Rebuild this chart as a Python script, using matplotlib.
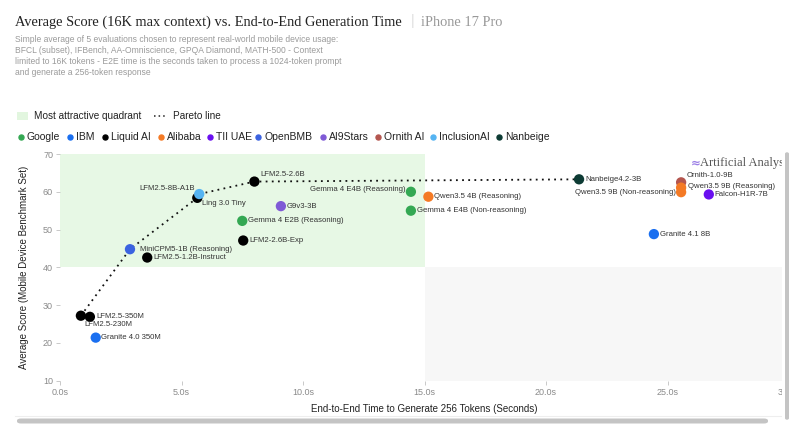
import matplotlib.pyplot as plt
from matplotlib.patches import Rectangle, FancyBboxPatch
from matplotlib.lines import Line2D

# data
models = [
    "LFM2.5-230M", "LFM2.5-350M", "Granite 4.0 350M", "MiniCPM5-1B (Reasoning)",
    "LFM2.5-1.2B-Instruct", "LFM2.5-8B-A1B", "Ling 3.0 Tiny", "LFM2.5-2.6B",
    "Gemma 4 E2B (Reasoning)", "LFM2-2.6B-Exp", "G9v3-3B", "Gemma 4 E4B (Reasoning)",
    "Gemma 4 E4B (Non-reasoning)", "Qwen3.5 4B (Reasoning)", "Nanbeige4.2-3B",
    "Granite 4.1 8B", "Ornith-1.0-9B", "Qwen3.5 9B (Reasoning)",
    "Qwen3.5 9B (Non-reasoning)", "Falcon-H1R-7B",
]
e2e_time = [0.86, 1.23, 1.47, 2.88, 3.59, 5.65, 5.73, 8.0, 7.5, 7.54, 9.09,
            14.44, 14.44, 15.16, 21.36, 24.44, 25.56, 25.56, 25.56, 26.7]
avg_score = [27.2, 26.9, 21.4, 44.8, 42.6, 58.4, 59.4, 62.7, 52.3, 47.1, 56.2,
             60.0, 55.0, 58.7, 63.3, 48.8, 62.5, 61.1, 59.9, 59.3]
orgs = ["Liquid AI", "Liquid AI", "IBM", "OpenBMB", "Liquid AI", "Liquid AI",
        "InclusionAI", "Liquid AI", "Google", "Liquid AI", "AI9Stars", "Google",
        "Google", "Alibaba", "Nanbeige", "IBM", "Ornith AI", "Alibaba",
        "Alibaba", "TII UAE"]
pareto = ["LFM2.5-230M", "MiniCPM5-1B (Reasoning)", "LFM2.5-8B-A1B",
          "Ling 3.0 Tiny", "LFM2.5-2.6B", "Nanbeige4.2-3B"]

org_order = ["Google", "IBM", "Liquid AI", "Alibaba", "TII UAE", "OpenBMB",
             "AI9Stars", "Ornith AI", "InclusionAI", "Nanbeige"]
org_colors = {
    "Google": "#34a853", "IBM": "#1a6ff0", "Liquid AI": "#000000",
    "Alibaba": "#f47a25", "TII UAE": "#6a0ff0", "OpenBMB": "#3b63e0",
    "AI9Stars": "#7f5ad6", "Ornith AI": "#b4564f", "InclusionAI": "#55b4f2",
    "Nanbeige": "#0d3b34",
}

# label offsets in pixels (dx, dy, ha)
offsets = {
    "LFM2.5-230M": (3, -9, "left"), "LFM2.5-350M": (6, 0, "left"),
    "Granite 4.0 350M": (5, 0, "left"), "MiniCPM5-1B (Reasoning)": (10, 0, "left"),
    "LFM2.5-1.2B-Instruct": (6, 0, "left"), "LFM2.5-8B-A1B": (-2, 9, "right"),
    "Ling 3.0 Tiny": (3, -9, "left"), "LFM2.5-2.6B": (6, 7.5, "left"),
    "Gemma 4 E2B (Reasoning)": (6, 0, "left"), "LFM2-2.6B-Exp": (6, 0, "left"),
    "G9v3-3B": (6, 0, "left"), "Gemma 4 E4B (Reasoning)": (-5, 2.5, "right"),
    "Gemma 4 E4B (Non-reasoning)": (6, 0, "left"),
    "Qwen3.5 4B (Reasoning)": (5.5, 0, "left"), "Nanbeige4.2-3B": (6, 0, "left"),
    "Granite 4.1 8B": (6, 0, "left"), "Ornith-1.0-9B": (6, 7, "left"),
    "Qwen3.5 9B (Reasoning)": (7, 1, "left"),
    "Qwen3.5 9B (Non-reasoning)": (-5, 0, "right"), "Falcon-H1R-7B": (6, 0, "left"),
}

plt.rcParams["font.family"] = ["Liberation Sans", "DejaVu Sans"]

W, H = 800, 437
fig = plt.figure(figsize=(W / 100, H / 100), dpi=100)
ax = fig.add_axes([60 / W, 1 - 380.7 / H, (789 - 60) / W, (380.7 - 154) / H])
ax.set_xlim(0, 30)
ax.set_ylim(10, 70)

# quadrant shading
ax.add_patch(Rectangle((0, 40), 15, 30, facecolor="#e7f8e5", edgecolor="none", zorder=0))
ax.add_patch(Rectangle((15, 10), 15, 30, facecolor="#f7f7f7", edgecolor="none", zorder=0))

# pareto line
px = [e2e_time[models.index(m)] for m in pareto]
py = [avg_score[models.index(m)] for m in pareto]
ax.plot(px, py, color="#111111", linestyle=(0, (1, 2.4)), linewidth=1.3, zorder=2)

for name, t, s, o in zip(models, e2e_time, avg_score, orgs):
    ax.scatter(t, s, s=55, color=org_colors[o], edgecolors="none", zorder=3)
    dx, dy, ha = offsets[name]
    ax.annotate(name, (t, s), xytext=(dx, dy), textcoords="offset pixels",
                ha=ha, va="center", fontsize=5.6, color="#333333", zorder=4)

for sp in ax.spines.values():
    sp.set_visible(False)
ax.set_xticks([0, 5, 10, 15, 20, 25, 30])
ax.set_xticklabels(["0.0s", "5.0s", "10.0s", "15.0s", "20.0s", "25.0s", "30.0s"])
ax.set_yticks([10, 20, 30, 40, 50, 60, 70])
ax.tick_params(axis="both", labelsize=6.5, colors="#c0c0c0", labelcolor="#8a8a8a",
               length=3, width=0.6, pad=2)
ax.set_xlabel("End-to-End Time to Generate 256 Tokens (Seconds)", fontsize=7,
              color="#222222", labelpad=5)
ax.set_ylabel("Average Score (Mobile Device Benchmark Set)", fontsize=7,
              color="#222222", labelpad=10)

# watermark
fig.text(691 / W, 1 - 163 / H, "≈", fontsize=8.5, color="#9b7fe6", va="center",
         family="DejaVu Sans", weight="bold")
fig.text(700 / W, 1 - 163 / H, "Artificial Analysis", fontsize=9, color="#555555",
         va="center", family="Liberation Serif")

# title and subtitle
fig.text(15 / W, 1 - 22 / H, "Average Score (16K max context) vs. End-to-End Generation Time",
         fontsize=10.4, family="Liberation Serif", color="#222222", va="center")
fig.text(411 / W, 1 - 21 / H, "|", fontsize=10, color="#dddddd", va="center")
fig.text(421 / W, 1 - 22 / H, "iPhone 17 Pro", fontsize=10.4, family="Liberation Serif",
         color="#999999", va="center")
subtitle = ("Simple average of 5 evaluations chosen to represent real-world mobile device usage:\n"
            "BFCL (subset), IFBench, AA-Omniscience, GPQA Diamond, MATH-500 - Context\n"
            "limited to 16K tokens - E2E time is the seconds taken to process a 1024-token prompt\n"
            "and generate a 256-token response")
fig.text(15 / W, 1 - 34.5 / H, subtitle, fontsize=6.15, color="#9a9a9a", va="top",
         linespacing=1.3)

# legend row 1
fig.patches.append(Rectangle((17 / W, 1 - 120 / H), 11 / W, 8 / H, facecolor="#e2f6df",
                             edgecolor="none", transform=fig.transFigure))
fig.text(34 / W, 1 - 116 / H, "Most attractive quadrant", fontsize=7.2, color="#222222",
         va="center")
fig.lines.append(Line2D([154 / W, 167 / W], [1 - 116 / H] * 2, color="#222222",
                        linestyle=(0, (1, 2.0)), linewidth=1.1, transform=fig.transFigure))
fig.text(173 / W, 1 - 116 / H, "Pareto line", fontsize=7.2, color="#222222", va="center")

# legend row 2
leg_x = [20.7, 70, 105.3, 161, 210, 258.3, 322.7, 378.3, 432.7, 499]
for lx, o in zip(leg_x, org_order):
    fig.lines.append(Line2D([lx / W], [1 - 137 / H], marker="o", markersize=3.6,
                            color=org_colors[o], linestyle="none", transform=fig.transFigure))
    fig.text((lx + 6) / W, 1 - 137 / H, o, fontsize=7.5, color="#222222", va="center")

# scroll container edges
fig.patches.append(Rectangle((782 / W, 0), 18 / W, 1 - 148 / H, facecolor="white",
                             edgecolor="none", transform=fig.transFigure, zorder=5))
fig.patches.append(FancyBboxPatch((785 / W, 1 - 420 / H), 4 / W, 268 / H,
                                  boxstyle="round,pad=0,rounding_size=0.004",
                                  facecolor="#c4c4c4", edgecolor="none",
                                  transform=fig.transFigure, zorder=6))
fig.lines.append(Line2D([15 / W, 782 / W], [1 - 415.5 / H] * 2, color="#eeeeee",
                        linewidth=0.8, transform=fig.transFigure))
fig.patches.append(FancyBboxPatch((17 / W, 1 - 423.5 / H), 751 / W, 5 / H,
                                  boxstyle="round,pad=0,rounding_size=0.005",
                                  facecolor="#c4c4c4", edgecolor="none",
                                  transform=fig.transFigure, zorder=6))

fig.savefig("out.png", dpi=100)
